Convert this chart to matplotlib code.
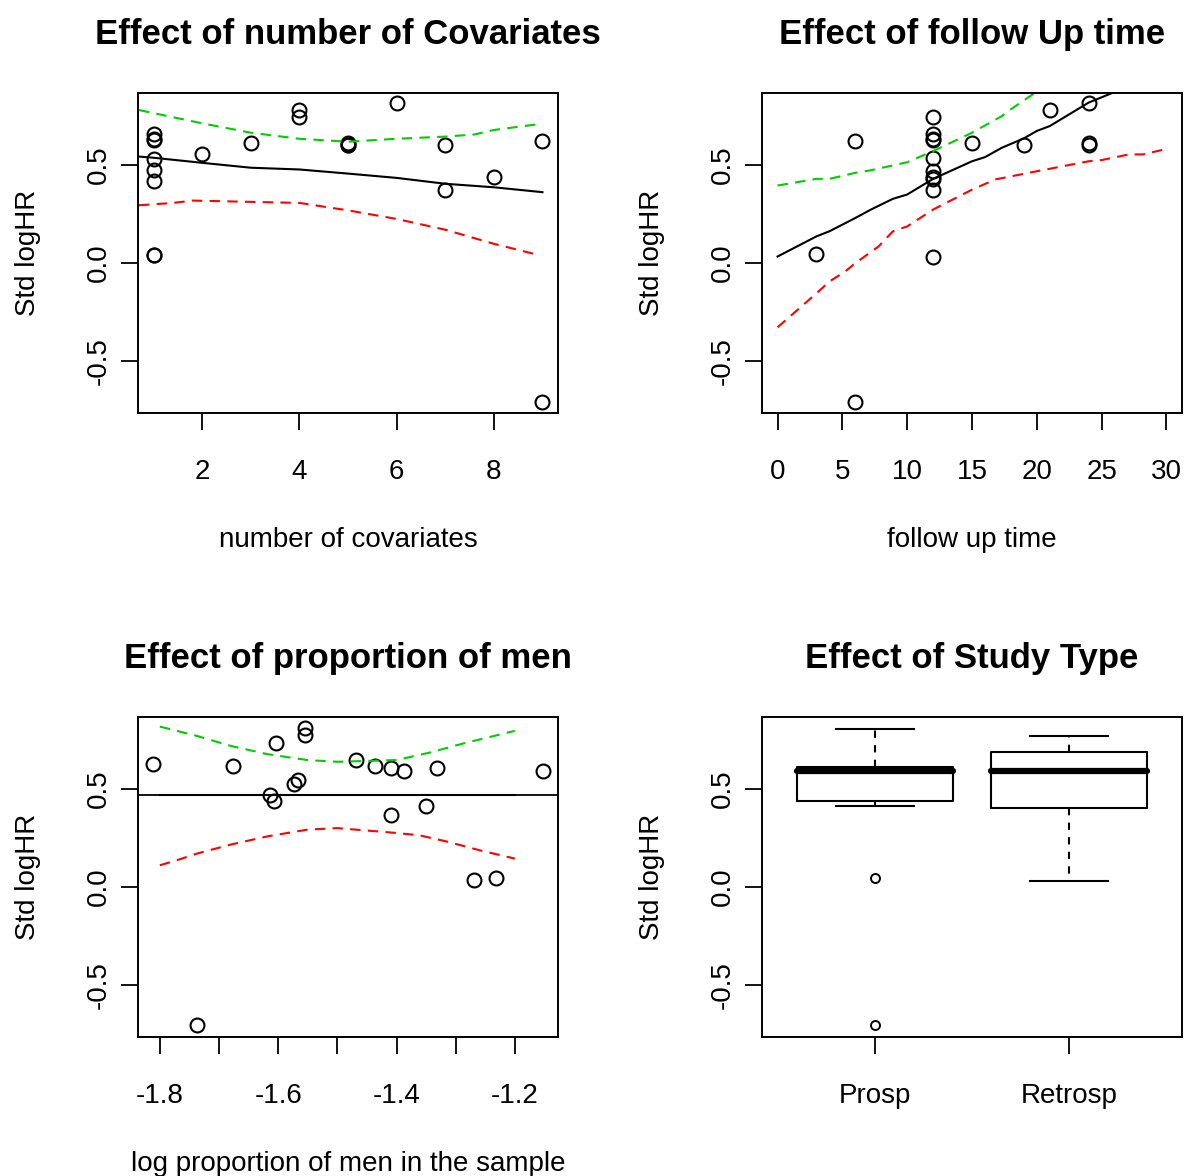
import matplotlib
matplotlib.use("Agg")
import matplotlib.pyplot as plt
import numpy as np

plt.rcParams['font.family'] = ['Liberation Sans', 'DejaVu Sans']
plt.rcParams['axes.unicode_minus'] = False

# panel 1: number of covariates
cov_x = [1, 1, 1, 1, 1, 1, 1, 1, 2, 3, 4, 4, 5, 5, 5, 6, 7, 7, 8, 9, 9]
cov_y = [0.656, 0.634, 0.627, 0.532, 0.473, 0.417, 0.041, 0.038, 0.554, 0.61,
         0.781, 0.747, 0.61, 0.60, 0.60, 0.815, 0.60, 0.374, 0.44, 0.622, -0.711]
cov_grid = [0.7, 1, 2, 3, 4, 5, 6, 7, 8, 9]
cov_fit = [0.543, 0.537, 0.511, 0.486, 0.477, 0.456, 0.434, 0.404, 0.386, 0.361]
cov_up_x = [0.7, 1, 2, 3, 4, 5, 6, 7, 7.6, 8, 8.9]
cov_up = [0.781, 0.765, 0.713, 0.665, 0.634, 0.619, 0.634, 0.645, 0.656, 0.679, 0.708]
cov_lo_x = [0.7, 1.4, 1.8, 4, 5, 6, 7, 8, 8.9]
cov_lo = [0.294, 0.306, 0.318, 0.306, 0.268, 0.224, 0.169, 0.097, 0.041]

# panel 2: follow up time
fu_x = [3, 6, 6, 12, 12, 12, 12, 12, 12, 12, 12, 12, 12, 15, 19, 21, 24, 24, 24]
fu_y = [0.046, 0.622, -0.711, 0.747, 0.656, 0.634, 0.627, 0.537, 0.468, 0.44,
        0.426, 0.371, 0.032, 0.61, 0.60, 0.781, 0.815, 0.61, 0.60]
fu_grid = [0, 3, 4, 6, 7.2, 8.9, 10, 12, 15, 16, 17.3, 19, 20, 21, 24, 27]
fu_fit = [0.032, 0.135, 0.161, 0.229, 0.272, 0.327, 0.349, 0.429, 0.519, 0.54,
          0.588, 0.636, 0.674, 0.699, 0.819, 0.90]
fu_up_x = [0, 3, 4, 6, 7.2, 10, 12, 15, 17.3, 18, 21]
fu_up = [0.395, 0.429, 0.429, 0.46, 0.473, 0.514, 0.571, 0.665, 0.75, 0.785, 0.92]
fu_lo_x = [0, 3, 4, 5.2, 6, 7.8, 8.9, 10, 12, 15, 16.8, 20, 24, 25, 27.1, 28.2, 29.8]
fu_lo = [-0.33, -0.156, -0.096, -0.045, -0.002, 0.084, 0.161, 0.186, 0.272, 0.374,
         0.426, 0.468, 0.519, 0.525, 0.554, 0.554, 0.579]

# panel 3: log proportion of men
men_x = [-1.811, -1.737, -1.677, -1.614, -1.607, -1.603, -1.574, -1.566, -1.554, -1.554,
         -1.469, -1.436, -1.41, -1.41, -1.387, -1.35, -1.332, -1.269, -1.232, -1.153]
men_y = [0.627, -0.708, 0.615, 0.47, 0.436, 0.737, 0.526, 0.547, 0.81, 0.775,
         0.648, 0.615, 0.605, 0.368, 0.593, 0.412, 0.605, 0.034, 0.043, 0.593]
men_grid = [-1.8, -1.2]
men_fit = [0.47, 0.47]
men_up_x = [-1.8, -1.737, -1.68, -1.618, -1.551, -1.5, -1.4, -1.344, -1.288, -1.2]
men_up = [0.819, 0.771, 0.72, 0.678, 0.648, 0.639, 0.648, 0.686, 0.732, 0.797]
men_lo_x = [-1.8, -1.768, -1.737, -1.68, -1.618, -1.551, -1.5, -1.4, -1.361, -1.316, -1.26, -1.2]
men_lo = [0.11, 0.139, 0.17, 0.216, 0.258, 0.292, 0.3, 0.275, 0.263, 0.232, 0.187, 0.144]

# panel 4: study type boxplot stats
study_types = ['Prosp', 'Retrosp']
box_whislo = [0.412, 0.031]
box_q1 = [0.437, 0.402]
box_med = [0.593, 0.593]
box_q3 = [0.61, 0.691]
box_whishi = [0.805, 0.771]
box_fliers = [[0.043, -0.708], []]

W, H = 1185, 1176
fig = plt.figure(figsize=(W / 100, H / 100), dpi=100)


def make_ax(left, top):
    ax = fig.add_axes([left / W, 1 - (top + 320) / H, 420 / W, 320 / H])
    for s in ax.spines.values():
        s.set_linewidth(1.4)
    ax.tick_params(direction='out', length=12, width=1.3, labelsize=20)
    ax.tick_params(axis='x', pad=21)
    ax.tick_params(axis='y', pad=7)
    ax.set_ylim(-0.768, 0.868)
    ax.set_yticks([-0.5, 0.0, 0.5])
    ax.set_yticklabels(['-0.5', '0.0', '0.5'], rotation=90, va='center')
    ax.set_ylabel('Std logHR', fontsize=20)
    ax.yaxis.set_label_coords(-0.23, 0.5)
    return ax


def scatter_panel(ax, x, y, gx, gy, ux, uy, lx, ly, title, xlabel):
    ax.plot(x, y, ls='none', marker='o', ms=10, mfc='none', mec='black', mew=1.5)
    ax.plot(gx, gy, color='black', lw=1.5)
    ax.plot(ux, uy, color='#00CD00', lw=1.5, ls=(0, (5, 3.5)))
    ax.plot(lx, ly, color='#FF0000', lw=1.5, ls=(0, (5, 3.5)))
    ax.set_title(title, fontsize=25, fontweight='bold', pad=35)
    ax.set_xlabel(xlabel, fontsize=20, va='top')
    ax.xaxis.set_label_coords(0.5, -0.355)


ax1 = make_ax(138, 93)
scatter_panel(ax1, cov_x, cov_y, cov_grid, cov_fit, cov_up_x, cov_up, cov_lo_x, cov_lo,
              'Effect of number of Covariates', 'number of covariates')
ax1.set_xlim(0.68, 9.32)
ax1.set_xticks([2, 4, 6, 8])

ax2 = make_ax(762, 93)
scatter_panel(ax2, fu_x, fu_y, fu_grid, fu_fit, fu_up_x, fu_up, fu_lo_x, fu_lo,
              'Effect of follow Up time', 'follow up time')
ax2.set_xlim(-1.2, 31.2)
ax2.set_xticks([0, 5, 10, 15, 20, 25, 30])

ax3 = make_ax(138, 717)
scatter_panel(ax3, men_x, men_y, men_grid, men_fit, men_up_x, men_up, men_lo_x, men_lo,
              'Effect of proportion of men', 'log proportion of men in the sample')
ax3.axhline(men_fit[0], color='black', lw=1.3)
ax3.set_xlim(-1.837, -1.127)
ax3.set_xticks([-1.8, -1.7, -1.6, -1.5, -1.4, -1.3, -1.2])
ax3.set_xticklabels(['-1.8', '', '-1.6', '', '-1.4', '', '-1.2'])

ax4 = make_ax(762, 717)
stats = []
for i, name in enumerate(study_types):
    stats.append(dict(label=name, whislo=box_whislo[i], q1=box_q1[i], med=box_med[i],
                      q3=box_q3[i], whishi=box_whishi[i], fliers=box_fliers[i]))
ax4.bxp(stats, positions=[1, 2], widths=0.8, capwidths=0.4,
        boxprops=dict(color='black', lw=1.5),
        whiskerprops=dict(color='black', lw=1.5, ls=(0, (3.5, 3.5))),
        capprops=dict(color='black', lw=1.5),
        medianprops=dict(color='black', lw=4.5, solid_capstyle='round'),
        flierprops=dict(marker='o', ms=6.5, mfc='none', mec='black', mew=1.4))
ax4.set_xlim(0.42, 2.58)
ax4.set_title('Effect of Study Type', fontsize=25, fontweight='bold', pad=35)
ax4.tick_params(labelsize=20)

fig.savefig('out.png', dpi=100)
